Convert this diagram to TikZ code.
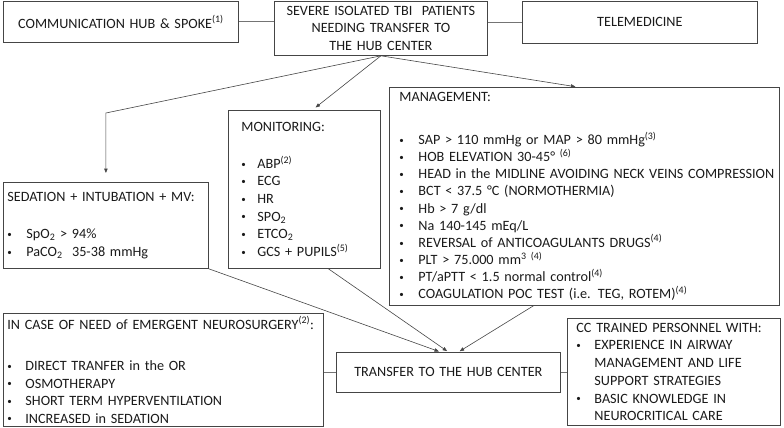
\documentclass[tikz,border=0pt]{standalone}
\usepackage{fontspec}
\setmainfont{Carlito}
\usetikzlibrary{arrows.meta}
\definecolor{Ink}{HTML}{1A1A1A}
\definecolor{Frame}{HTML}{454545}
\newcommand{\itm}[1][18pt]{\makebox[#1][l]{\raisebox{1.2pt}{\fontsize{9}{9}\selectfont\textbullet}}}

\begin{document}
\begin{tikzpicture}[x=1pt,y=-1pt,
  box/.style={draw=Frame,line width=0.8pt,inner ysep=0pt,anchor=north west,text=Ink,
    font=\fontsize{14.2}{17.5}\selectfont},
  arr/.style={draw=Frame,line width=0.6pt,-{Triangle[length=4.5pt,width=3.5pt]}},
  lnk/.style={draw=Frame!75,line width=0.8pt}]
  \useasboundingbox (0,0) rectangle (784,428);
  \node[box,text width=227pt,inner xsep=4pt,minimum height=41pt,align=center] (hub) at (3,1)
    {COMMUNICATION HUB \& SPOKE\textsuperscript{(1)}};
  \node[box,text width=205pt,inner xsep=4pt,minimum height=54pt,align=center] (severe) at (274,1)
    {SEVERE ISOLATED TBI\ \ PATIENTS\\NEEDING TRANSFER TO\\THE HUB CENTER};
  \node[box,text width=227pt,inner xsep=4pt,minimum height=42pt,align=center] (tele) at (522,1)
    {TELEMEDICINE};
  \node[box,text width=197pt,inner xsep=4pt,minimum height=86pt,align=left] (sed) at (3,182)
    {SEDATION + INTUBATION + MV:\\[20pt]
     \itm[19pt]SpO\textsubscript{2} > 94\%\\
     \itm[19pt]PaCO\textsubscript{2}\ \ 35-38 mmHg\\[6pt]};
  \node[box,text width=126pt,inner xsep=13pt,minimum height=158pt,align=left,
    font=\fontsize{14.2}{17.6}\selectfont] (mon) at (228,110)
    {MONITORING:\\[19pt]
     \itm[16pt]ABP\textsuperscript{(2)}\\
     \itm[16pt]ECG\\
     \itm[16pt]HR\\
     \itm[16pt]SPO\textsubscript{2}\\
     \itm[16pt]ETCO\textsubscript{2}\\
     \itm[16pt]GCS + PUPILS\textsuperscript{(5)}};
  \node[box,text width=370pt,inner xsep=10pt,minimum height=218pt,align=left,
    font=\fontsize{14.2}{17.1}\selectfont] (mgmt) at (389,87)
    {MANAGEMENT:\\[26pt]
     \itm[19pt]SAP > 110 mmHg or MAP > 80 mmHg\textsuperscript{(3)}\\
     \itm[19pt]HOB ELEVATION 30-45° \textsuperscript{(6)}\\
     \itm[19pt]\mbox{HEAD in the MIDLINE AVOIDING NECK VEINS COMPRESSION}\\
     \itm[19pt]BCT < 37.5 °C (NORMOTHERMIA)\\
     \itm[19pt]Hb > 7 g/dl\\
     \itm[19pt]Na 140-145 mEq/L\\
     \itm[19pt]REVERSAL of ANTICOAGULANTS DRUGS\textsuperscript{(4)}\\
     \itm[19pt]PLT > 75.000 mm\textsuperscript{3 (4)}\\
     \itm[19pt]PT/aPTT < 1.5 normal control\textsuperscript{(4)}\\
     \itm[19pt]COAGULATION POC TEST (i.e. TEG, ROTEM)\textsuperscript{(4)}};
  \node[box,text width=312pt,inner xsep=4pt,minimum height=113pt,align=left] (emerg) at (3,313)
    {\mbox{IN CASE OF NEED of EMERGENT NEUROSURGERY\textsuperscript{(2)}:}\\[24pt]
     \itm DIRECT TRANFER in the OR\\
     \itm OSMOTHERAPY\\
     \itm SHORT TERM HYPERVENTILATION\\
     \itm INCREASED in SEDATION};
  \node[box,text width=216pt,inner xsep=4pt,minimum height=40pt,align=center] (trans) at (336,352)
    {TRANSFER TO THE HUB CENTER};
  \node[box,text width=195pt,inner xsep=9pt,minimum height=107pt,align=left,
    font=\fontsize{14.2}{17.7}\selectfont] (cc) at (567,318)
    {CC TRAINED PERSONNEL WITH:\\
     \itm EXPERIENCE IN AIRWAY\\
     \hspace*{18pt}MANAGEMENT AND LIFE\\
     \hspace*{18pt}SUPPORT STRATEGIES\\
     \itm BASIC KNOWLEDGE IN\\
     \hspace*{18pt}NEUROCRITICAL CARE\\[-3pt]};
  \coordinate (bend) at (0,113);
  \draw[lnk] (hub.east) -- (hub.east -| severe.west);
  \draw[lnk] (tele.west) -- (tele.west -| severe.east);
  \draw[arr,shorten >=9pt] (severe.south) -- (sed.north |- bend) -- (sed.north);
  \draw[arr,shorten >=4pt] (severe.south) -- ([xshift=8pt]mon.north);
  \draw[arr,shorten >=2pt] (severe.south) -- ([xshift=-7pt]mgmt.north);
  \draw[arr,shorten >=1.5pt] (sed.south east) -- ([xshift=-8pt]trans.north);
  \draw[arr,shorten >=1.5pt] ([xshift=24pt]mon.south) -- (trans.north);
  \draw[arr,shorten >=1.5pt] ([xshift=-51pt]mgmt.south) -- ([xshift=10pt]trans.north);
  \draw[lnk] (trans.west) -- (trans.west -| emerg.east);
  \draw[lnk] (trans.east) -- (trans.east -| cc.west);
\end{tikzpicture}
\end{document}
